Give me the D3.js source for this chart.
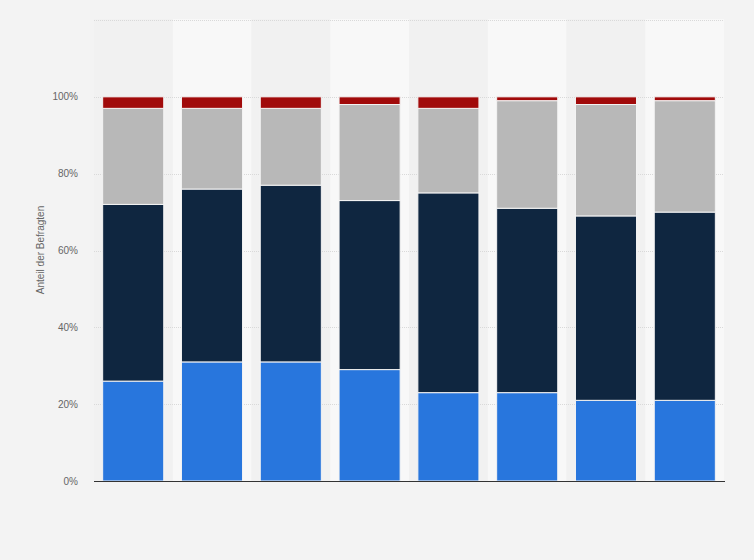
<!DOCTYPE html>
<html lang="de">
<head>
<meta charset="UTF-8">
<title>Anteil der Befragten</title>
<script src="https://cdn.jsdelivr.net/npm/d3@7"></script>
<style>
  html, body { margin: 0; padding: 0; background: #f3f3f3; }
  svg { display: block; font-family: "Liberation Sans", Arial, sans-serif; }
</style>
</head>
<body>
<script>
// categories have no visible labels in the chart
var categories = ["1", "2", "3", "4", "5", "6", "7", "8"];
var seriesNames = ["s1", "s2", "s3", "s4"];
var s1 = [26, 31, 31, 29, 23, 23, 21, 21];
var s2 = [46, 45, 46, 44, 52, 48, 48, 49];
var s3 = [25, 21, 20, 25, 22, 28, 29, 29];
var s4 = [3, 3, 3, 2, 3, 1, 2, 1];
var yTicks = [0, 20, 40, 60, 80, 100, 120];
var colors = ["#2876dd", "#0f2640", "#b8b8b8", "#a10a0a"];

var width = 754, height = 560;
var margin = {top: 20, right: 30, bottom: 79, left: 94};

var svg = d3.select("body").append("svg")
    .attr("width", width)
    .attr("height", height);

var x = d3.scaleBand()
    .domain(categories)
    .range([margin.left, width - margin.right])
    .paddingInner(0.225)
    .paddingOuter(0.11);

var y = d3.scaleLinear()
    .domain([0, 120])
    .range([height - margin.bottom, margin.top]);

var rows = categories.map(function(c, i) {
    return {cat: c, s1: s1[i], s2: s2[i], s3: s3[i], s4: s4[i]};
});
var stacked = d3.stack().keys(seriesNames)(rows);

// alternating column bands
var bandW = (width - margin.right - margin.left) / categories.length;
svg.append("g").selectAll("rect")
    .data(categories)
    .enter().append("rect")
    .attr("x", function(d, i) { return margin.left + i * bandW; })
    .attr("y", y(120) - 1)
    .attr("width", bandW)
    .attr("height", y(0) - y(120) + 1)
    .attr("fill", function(d, i) { return i % 2 ? "#f8f8f8" : "#f1f1f1"; });

// gridlines
svg.append("g").selectAll("line")
    .data(yTicks)
    .enter().append("line")
    .attr("x1", margin.left)
    .attr("x2", width - margin.right)
    .attr("y1", function(d) { return Math.round(y(d)) + 0.5; })
    .attr("y2", function(d) { return Math.round(y(d)) + 0.5; })
    .attr("stroke", "#d9d9d9")
    .attr("stroke-dasharray", "1,1");

// bars
svg.append("g").selectAll("g")
    .data(stacked)
    .enter().append("g")
    .attr("fill", function(d, i) { return colors[i]; })
    .selectAll("rect")
    .data(function(d) { return d; })
    .enter().append("rect")
    .attr("x", function(d) { return x(d.data.cat); })
    .attr("y", function(d) { return y(d[1]); })
    .attr("width", x.bandwidth())
    .attr("height", function(d) { return y(d[0]) - y(d[1]); })
    .attr("stroke", "#f4f4f4")
    .attr("stroke-width", 1);

// y tick labels (no label at 120)
svg.append("g").selectAll("text")
    .data(yTicks.filter(function(d) { return d <= 100; }))
    .enter().append("text")
    .attr("x", margin.left - 16)
    .attr("y", function(d) { return y(d); })
    .attr("dy", "0.35em")
    .attr("text-anchor", "end")
    .attr("font-size", 10)
    .attr("fill", "#666")
    .text(function(d) { return d + "%"; });

// bottom axis line
svg.append("line")
    .attr("x1", margin.left)
    .attr("x2", width - margin.right + 1)
    .attr("y1", y(0) + 0.5)
    .attr("y2", y(0) + 0.5)
    .attr("stroke", "#333")
    .attr("stroke-width", 1);

// y axis title
svg.append("text")
    .attr("transform", "translate(44,250) rotate(-90)")
    .attr("text-anchor", "middle")
    .attr("font-size", 10)
    .attr("fill", "#666")
    .text("Anteil der Befragten");
</script>
</body>
</html>
